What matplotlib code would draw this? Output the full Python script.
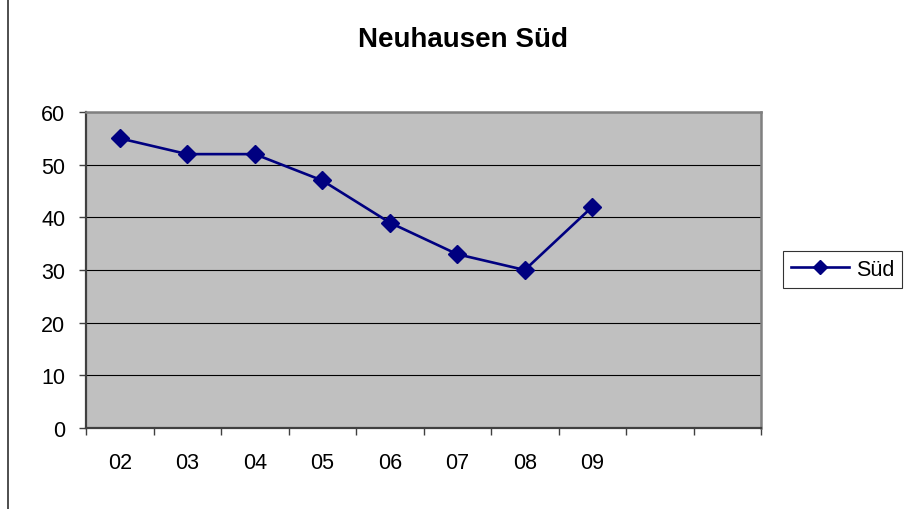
import matplotlib.pyplot as plt
from matplotlib.lines import Line2D
import numpy as np

plt.rcParams["font.family"] = ["Liberation Sans", "DejaVu Sans"]

# Daten
jahre = ["02", "03", "04", "05", "06", "07", "08", "09", "", ""]
sued = [55, 52, 52, 47, 39, 33, 30, 42]
title = "Neuhausen Süd"
serie = "Süd"

fig = plt.figure(figsize=(9.1, 5.1), dpi=100)
ax = fig.add_axes([86 / 910, 1 - 429 / 510, (761 - 86) / 910, (429 - 113) / 510])
ax.set_facecolor("#c0c0c0")

n_cat = len(jahre)
x = np.arange(len(sued)) + 0.5
ax.plot(x, sued, color="#000080", lw=1.9, marker="D", ms=9.5, label=serie, zorder=3)

ax.set_xlim(0, n_cat)
ax.set_ylim(0, 60)
ax.set_yticks(np.arange(0, 61, 10))
ax.grid(axis="y", color="black", lw=0.8, zorder=1)
ax.set_axisbelow(True)

# Kategorie-Grenzen als Ticks, Labels mittig
ax.set_xticks(np.arange(0, n_cat + 1))
ax.set_xticklabels([])
ax.set_xticks(np.arange(n_cat) + 0.5, minor=True)
ax.set_xticklabels(jahre, minor=True)
ax.tick_params(axis="x", which="major", direction="out", length=5, width=1, color="#404040")
ax.tick_params(axis="x", which="minor", length=0, pad=17, labelsize=15.5)
ax.tick_params(axis="y", direction="out", length=5, width=1, color="#404040", pad=10, labelsize=15.5)

for side in ["left", "bottom"]:
    ax.spines[side].set_color("#404040")
    ax.spines[side].set_linewidth(1.6)
for side in ["top", "right"]:
    ax.spines[side].set_color("#808080")
    ax.spines[side].set_linewidth(1.8)

fig.text(463 / 910, 1 - 40 / 510, title, ha="center", va="center", fontsize=20, fontweight="bold")

leg = fig.legend(
    loc="center",
    bbox_to_anchor=(842.5 / 910, 1 - 270.5 / 510),
    fontsize=15.5,
    frameon=True,
    fancybox=False,
    handlelength=2.7,
    handletextpad=0.3,
    borderpad=0.35,
    markerscale=0.75,
)
leg.get_frame().set_edgecolor("black")
leg.get_frame().set_linewidth(0.8)

# linker Rahmenstrich
fig.add_artist(Line2D([7.5 / 910, 7.5 / 910], [0, 1], color="#303030", lw=1.2))

fig.savefig("out.png", dpi=100)
